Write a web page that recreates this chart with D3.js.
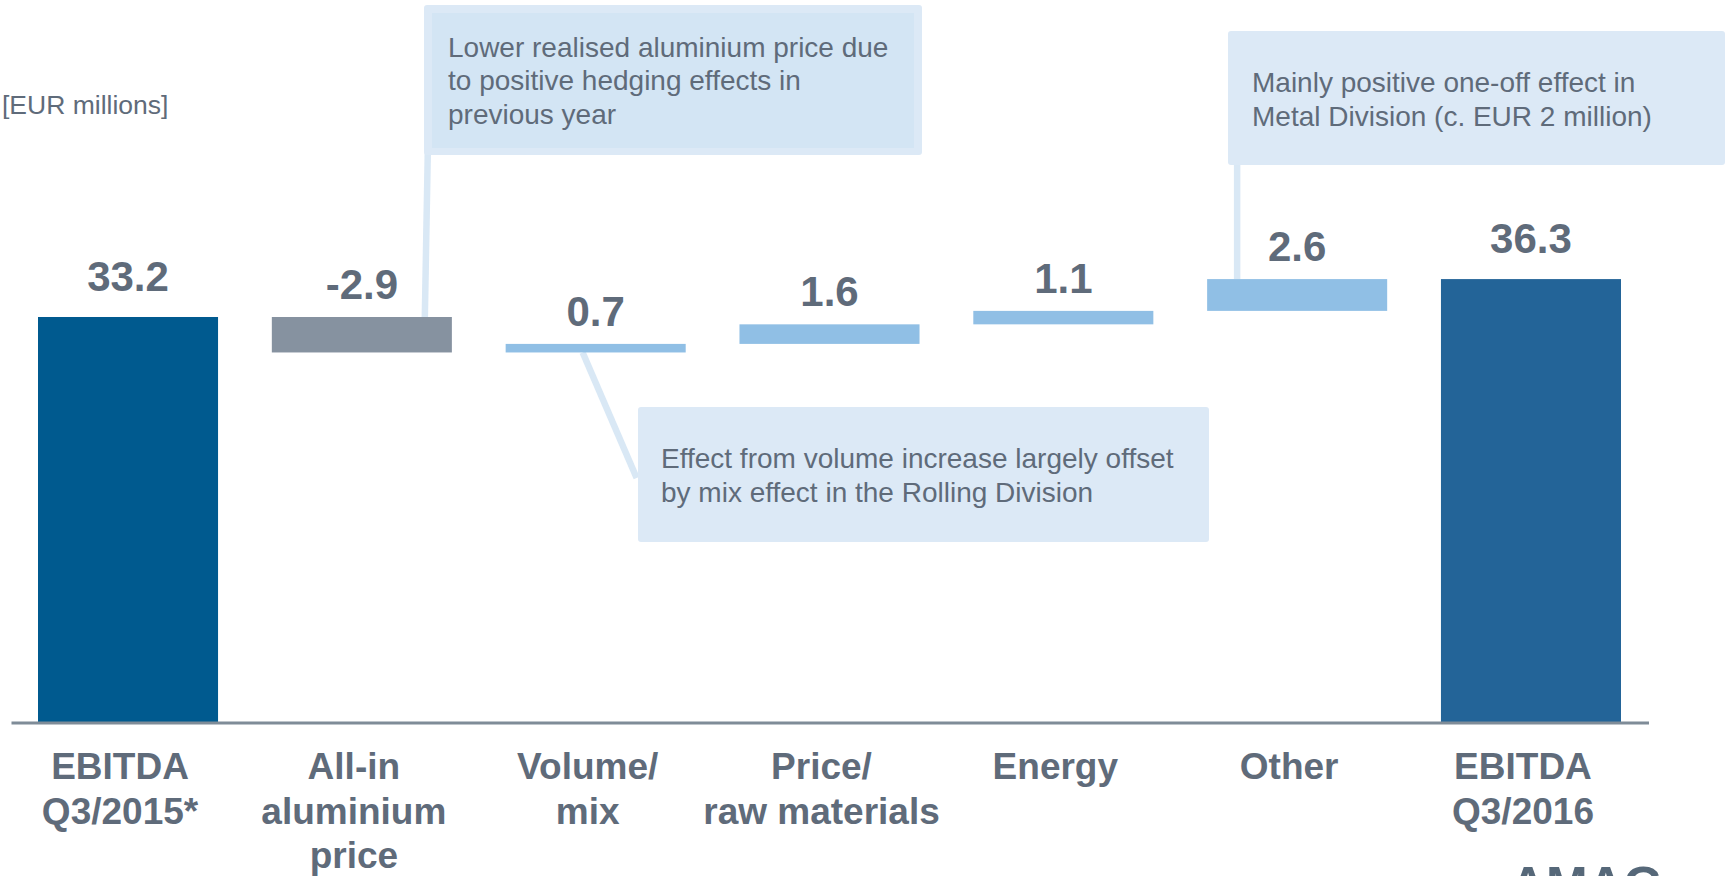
<!DOCTYPE html>
<html>
<head>
<meta charset="utf-8">
<script src="https://cdn.jsdelivr.net/npm/d3@7"></script>
<style>
  body { margin: 0; background: #ffffff; }
  svg { display: block; }
  text { font-family: "Liberation Sans", Arial, Helvetica, sans-serif; }
</style>
</head>
<body>
<svg id="chart" width="1729" height="876"></svg>
<script>
// EBITDA bridge Q3/2015 -> Q3/2016, EUR millions
const categories = ["EBITDA\nQ3/2015*", "All-in\naluminium\nprice", "Volume/\nmix", "Price/\nraw materials", "Energy", "Other", "EBITDA\nQ3/2016"];
const changes = [33.2, -2.9, 0.7, 1.6, 1.1, 2.6, 36.3];
const barKinds = ["start", "down", "up", "up", "up", "up", "end"];
const valueLabels = ["33.2", "-2.9", "0.7", "1.6", "1.1", "2.6", "36.3"];
const unitLabel = "[EUR millions]";
const noteHedging = ["Lower realised aluminium price due", "to positive hedging effects in", "previous year"];
const noteVolume = ["Effect from volume increase largely offset", "by mix effect in the Rolling Division"];
const noteOther = ["Mainly positive one-off effect in", "Metal Division (c. EUR 2 million)"];
const logoText = "AMAG";

const textColor = "#5f6b7a";
const kindColor = { start: "#005a8f", end: "#236498", down: "#8692a0", up: "#90bfe5" };
const noteFill = "#dce9f6";
const noteInner = "#d3e5f4";

const svg = d3.select("#chart");

// running totals for the floating bars
let running = 0;
const bars = categories.map((c, i) => {
  const v = changes[i];
  let y0, y1;
  if (barKinds[i] === "start" || barKinds[i] === "end") { y0 = 0; y1 = v; running = v; }
  else { y0 = running; y1 = running + v; running = y1; }
  return { cat: c, kind: barKinds[i], label: valueLabels[i], lo: Math.min(y0, y1), hi: Math.max(y0, y1) };
});

const x = d3.scaleBand().domain(categories).range([38, 1621]).paddingInner(0.23).paddingOuter(0);
const y = d3.scaleLinear().domain([0, 40]).range([723, 723 - 40 * 12.229]);

// unit label
svg.append("text").attr("x", 2).attr("y", 114).attr("font-size", 26.5)
  .attr("fill", textColor).text(unitLabel);

// callout helper: box with text lines
function callout(x0, y0, w, h, lines, opts) {
  const g = svg.append("g");
  g.append("rect").attr("x", x0).attr("y", y0).attr("width", w).attr("height", h)
    .attr("rx", 3).attr("fill", noteFill);
  if (opts.inner) {
    g.append("rect").attr("x", x0 + 8).attr("y", y0 + 8).attr("width", w - 16).attr("height", h - 15)
      .attr("fill", noteInner);
  }
  const t = g.append("text").attr("font-size", 28).attr("fill", textColor);
  lines.forEach((ln, i) => {
    t.append("tspan").attr("x", opts.tx).attr("y", opts.ty + i * 33.6).text(ln);
  });
}

const bar2 = bars[1], bar3 = bars[2], bar6 = bars[5];

// connectors (drawn beneath boxes and bars)
const conn = svg.append("g").attr("stroke", "#d9e8f5").attr("stroke-width", 6.5).attr("fill", "none");
conn.append("line")
  .attr("x1", x(bar2.cat) + 156).attr("y1", 150)
  .attr("x2", x(bar2.cat) + 153).attr("y2", y(bar2.hi));
conn.append("line")
  .attr("x1", x(bar3.cat) + 77).attr("y1", y(bar3.lo))
  .attr("x2", x(bar3.cat) + 131).attr("y2", 478);
conn.append("line")
  .attr("x1", x(bar6.cat) + 30).attr("y1", 160)
  .attr("x2", x(bar6.cat) + 30).attr("y2", y(bar6.hi));

callout(424, 5, 498, 150, noteHedging, { inner: true, tx: 448, ty: 56.7 });
callout(638, 407, 571, 135, noteVolume, { inner: false, tx: 661, ty: 468.3 });
callout(1228, 31, 497, 134, noteOther, { inner: false, tx: 1252, ty: 92 });

// bars
svg.append("g").selectAll("rect").data(bars).join("rect")
  .attr("x", d => x(d.cat))
  .attr("width", x.bandwidth())
  .attr("y", d => y(d.hi))
  .attr("height", d => y(d.lo) - y(d.hi))
  .attr("fill", d => kindColor[d.kind]);

// value labels
svg.append("g").selectAll("text").data(bars).join("text")
  .attr("x", d => x(d.cat) + x.bandwidth() / 2)
  .attr("y", d => y(d.hi) - (d.kind === "start" || d.kind === "end" ? 26 : 18))
  .attr("text-anchor", "middle")
  .attr("font-size", 42).attr("font-weight", "bold")
  .attr("fill", textColor)
  .text(d => d.label);

// category axis
const axis = svg.append("g").attr("transform", `translate(0,${y(0)})`)
  .call(d3.axisBottom(x).tickSize(0).tickSizeOuter(0).tickFormat(""));
axis.select(".domain").attr("d", "M11.5,0H1649").attr("stroke", "#7f8c98").attr("stroke-width", 3);
axis.selectAll(".tick").each(function (c) {
  const t = d3.select(this).append("text")
    .attr("fill", textColor).attr("font-size", 37).attr("font-weight", "bold")
    .attr("text-anchor", "middle").attr("transform", "translate(-8,0)");
  c.split("\n").forEach((ln, i) => {
    t.append("tspan").attr("x", 0).attr("y", 56 + i * 44.5).text(ln);
  });
});

// company wordmark, partly below the lower edge
svg.append("text").attr("x", 1510).attr("y", 902)
  .attr("font-size", 50).attr("font-weight", "bold").attr("fill", "#566879")
  .text(logoText);
</script>
</body>
</html>
